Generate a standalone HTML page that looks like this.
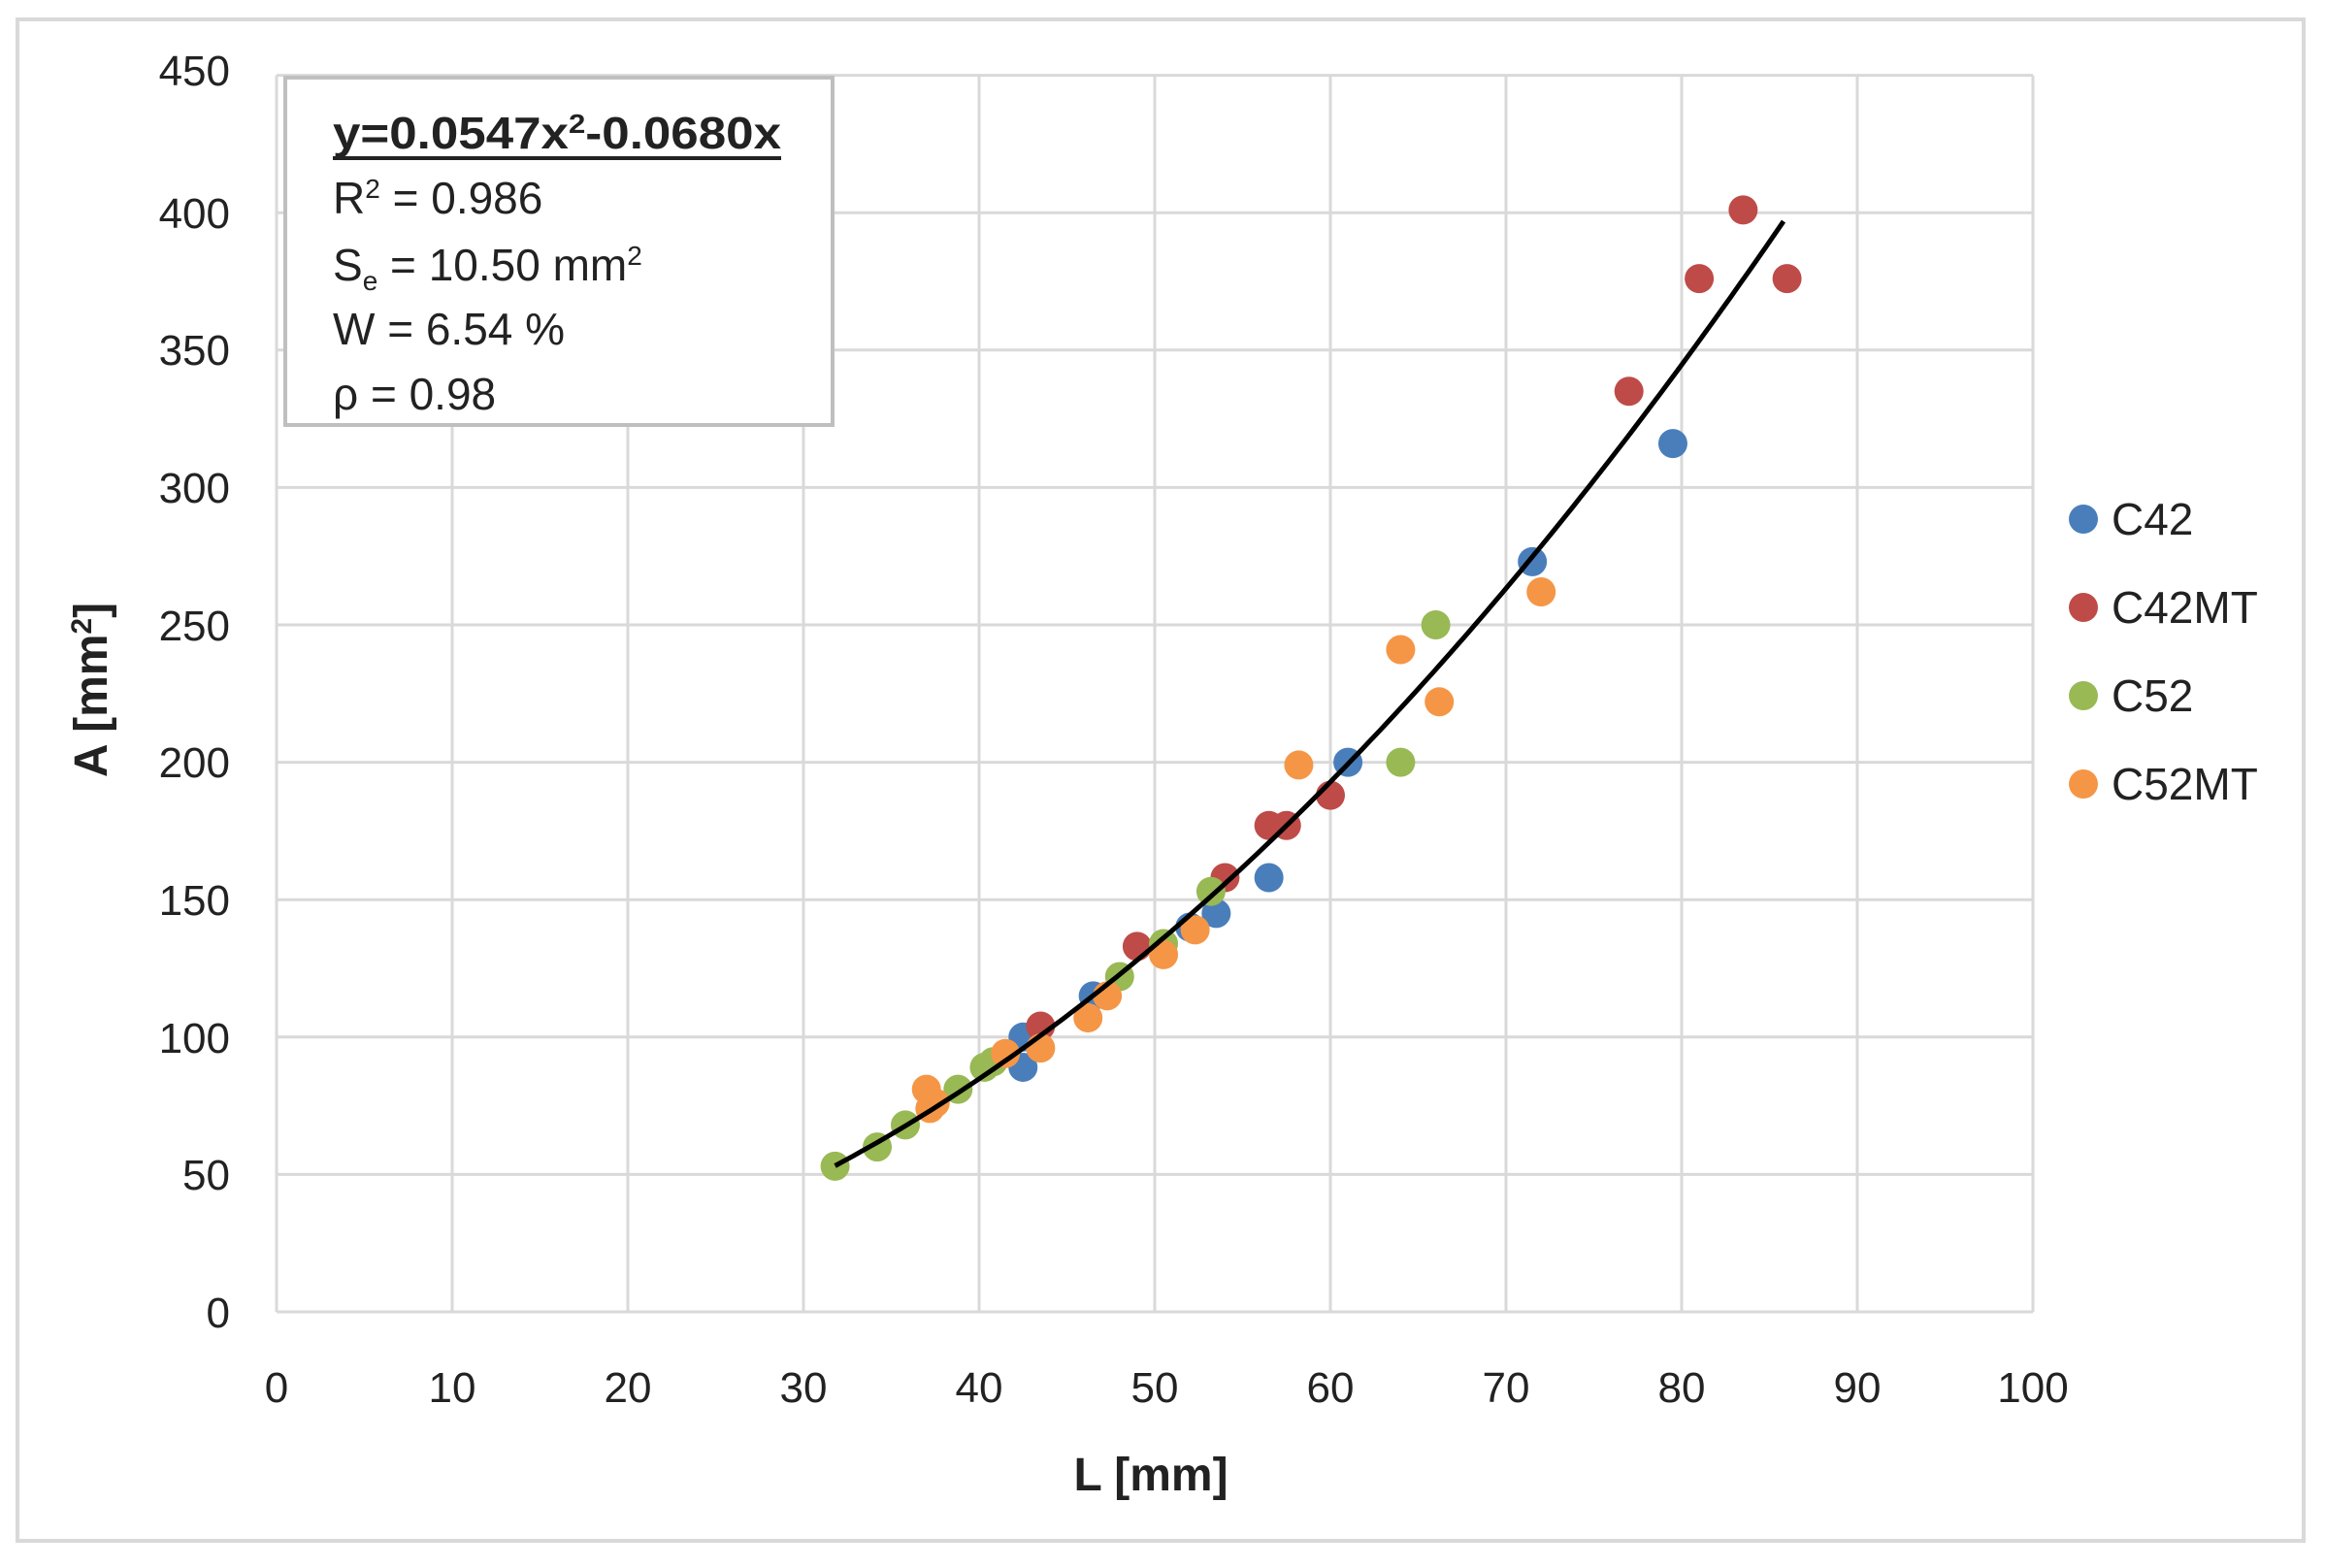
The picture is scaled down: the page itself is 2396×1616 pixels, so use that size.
<!DOCTYPE html>
<html><head><meta charset="utf-8"><style>
html,body{margin:0;padding:0;background:#fff;}
svg{display:block;font-family:"Liberation Sans",sans-serif;}
</style></head><body>
<svg id="s" width="2396" height="1616" viewBox="0 0 2396 1616" xmlns="http://www.w3.org/2000/svg">
<rect x="0" y="0" width="2396" height="1616" fill="#fff"/>
<rect x="18" y="20" width="2356" height="1568" fill="#fff" stroke="#d9d9d9" stroke-width="4"/>
<g id="grid" stroke="#d9d9d9" stroke-width="3"></g>
<g font-size="44" fill="#222" text-anchor="end">
<text x="237" y="1368">0</text><text x="237" y="1226">50</text><text x="237" y="1085">100</text>
<text x="237" y="943">150</text><text x="237" y="801">200</text><text x="237" y="660">250</text>
<text x="237" y="518">300</text><text x="237" y="376">350</text><text x="237" y="235">400</text>
<text x="237" y="88">450</text>
</g>
<g font-size="44" fill="#222" text-anchor="middle">
<text x="285" y="1445">0</text><text x="466" y="1445">10</text><text x="647" y="1445">20</text>
<text x="828" y="1445">30</text><text x="1009" y="1445">40</text><text x="1190" y="1445">50</text>
<text x="1371" y="1445">60</text><text x="1552" y="1445">70</text><text x="1733" y="1445">80</text>
<text x="1914" y="1445">90</text><text x="2095" y="1445">100</text>
</g>
<text x="1186" y="1536" font-size="48" font-weight="bold" text-anchor="middle" fill="#222">L [mm]</text>
<text transform="translate(110,711) rotate(-90)" font-size="48" font-weight="bold" text-anchor="middle" fill="#222">A [mm<tspan font-size="30" dy="-16">2</tspan><tspan dy="16">]</tspan></text>
<g id="dots"></g>
<path id="curve" fill="none" stroke="#000" stroke-width="5"/>
<rect x="294" y="80" width="564" height="358" fill="#fff" stroke="#bfbfbf" stroke-width="4"/>
<g font-size="46" fill="#222">
<text x="343" y="153" font-weight="bold" textLength="462" lengthAdjust="spacingAndGlyphs">y=0.0547x<tspan font-size="28" dy="-16">2</tspan><tspan dy="16">-0.0680x</tspan></text>
<line x1="343" y1="163" x2="805" y2="163" stroke="#222" stroke-width="4"/>
<text x="343" y="220">R<tspan font-size="28" dy="-16">2</tspan><tspan dy="16"> = 0.986</tspan></text>
<text x="343" y="289">S<tspan font-size="28" dy="10">e</tspan><tspan dy="-10"> = 10.50 mm</tspan><tspan font-size="28" dy="-16">2</tspan></text>
<text x="343" y="355">W = 6.54 %</text>
<text x="343" y="422">ρ = 0.98</text>
</g>
<g font-size="46" fill="#222">
<circle cx="2147" cy="535" r="15" fill="#4a7ebb"/><text x="2176" y="551">C42</text>
<circle cx="2147" cy="626" r="15" fill="#be4b48"/><text x="2176" y="642">C42MT</text>
<circle cx="2147" cy="717" r="15" fill="#98b954"/><text x="2176" y="733">C52</text>
<circle cx="2147" cy="808" r="15" fill="#f59646"/><text x="2176" y="824">C52MT</text>
</g>
</svg>
<script>
var X=function(v){return 285+v*18.1},Y=function(v){return 1352-v*2.832};
var g=document.getElementById('grid'),h='';
for(var i=0;i<=10;i++)h+='<line x1="'+X(i*10)+'" y1="'+Y(450)+'" x2="'+X(i*10)+'" y2="'+Y(0)+'"/>';
for(var j=0;j<=9;j++)h+='<line x1="'+X(0)+'" y1="'+Y(j*50)+'" x2="'+X(100)+'" y2="'+Y(j*50)+'"/>';
g.innerHTML=h;
var S=[["#4a7ebb",[[42.5,100],[42.5,89],[46.5,115],[52,140],[53.5,145],[56.5,158],[61,200],[71.5,273],[79.5,316],[43,100]]],
["#be4b48",[[43.5,104],[49,133],[54,158],[56.5,177],[57.5,177],[60,188],[77,335],[81,376],[83.5,401],[86,376]]],
["#98b954",[[31.8,53],[34.2,60],[35.8,68],[38.8,81],[40.3,89],[40.8,91],[48,122],[50.5,134],[53.2,153],[64,200],[66,250]]],
["#f59646",[[37,81],[37.2,74],[37.5,76],[41.5,94],[43.5,96],[46.2,107],[47.3,115],[50.5,130],[52.3,139],[58.2,199],[64,241],[66.2,222],[72,262]]]];
var d='';S.forEach(function(s){s[1].forEach(function(p){d+='<circle cx="'+X(p[0])+'" cy="'+Y(p[1])+'" r="15" fill="'+s[0]+'"/>';});});
document.getElementById('dots').innerHTML=d;
var p='';for(var x=31.8;x<=86.01;x+=0.5){var y=0.0547*x*x-0.068*x;p+=(p?'L':'M')+X(x).toFixed(1)+','+Y(y).toFixed(1);}
document.getElementById('curve').setAttribute('d',p);
</script>
</body></html>
